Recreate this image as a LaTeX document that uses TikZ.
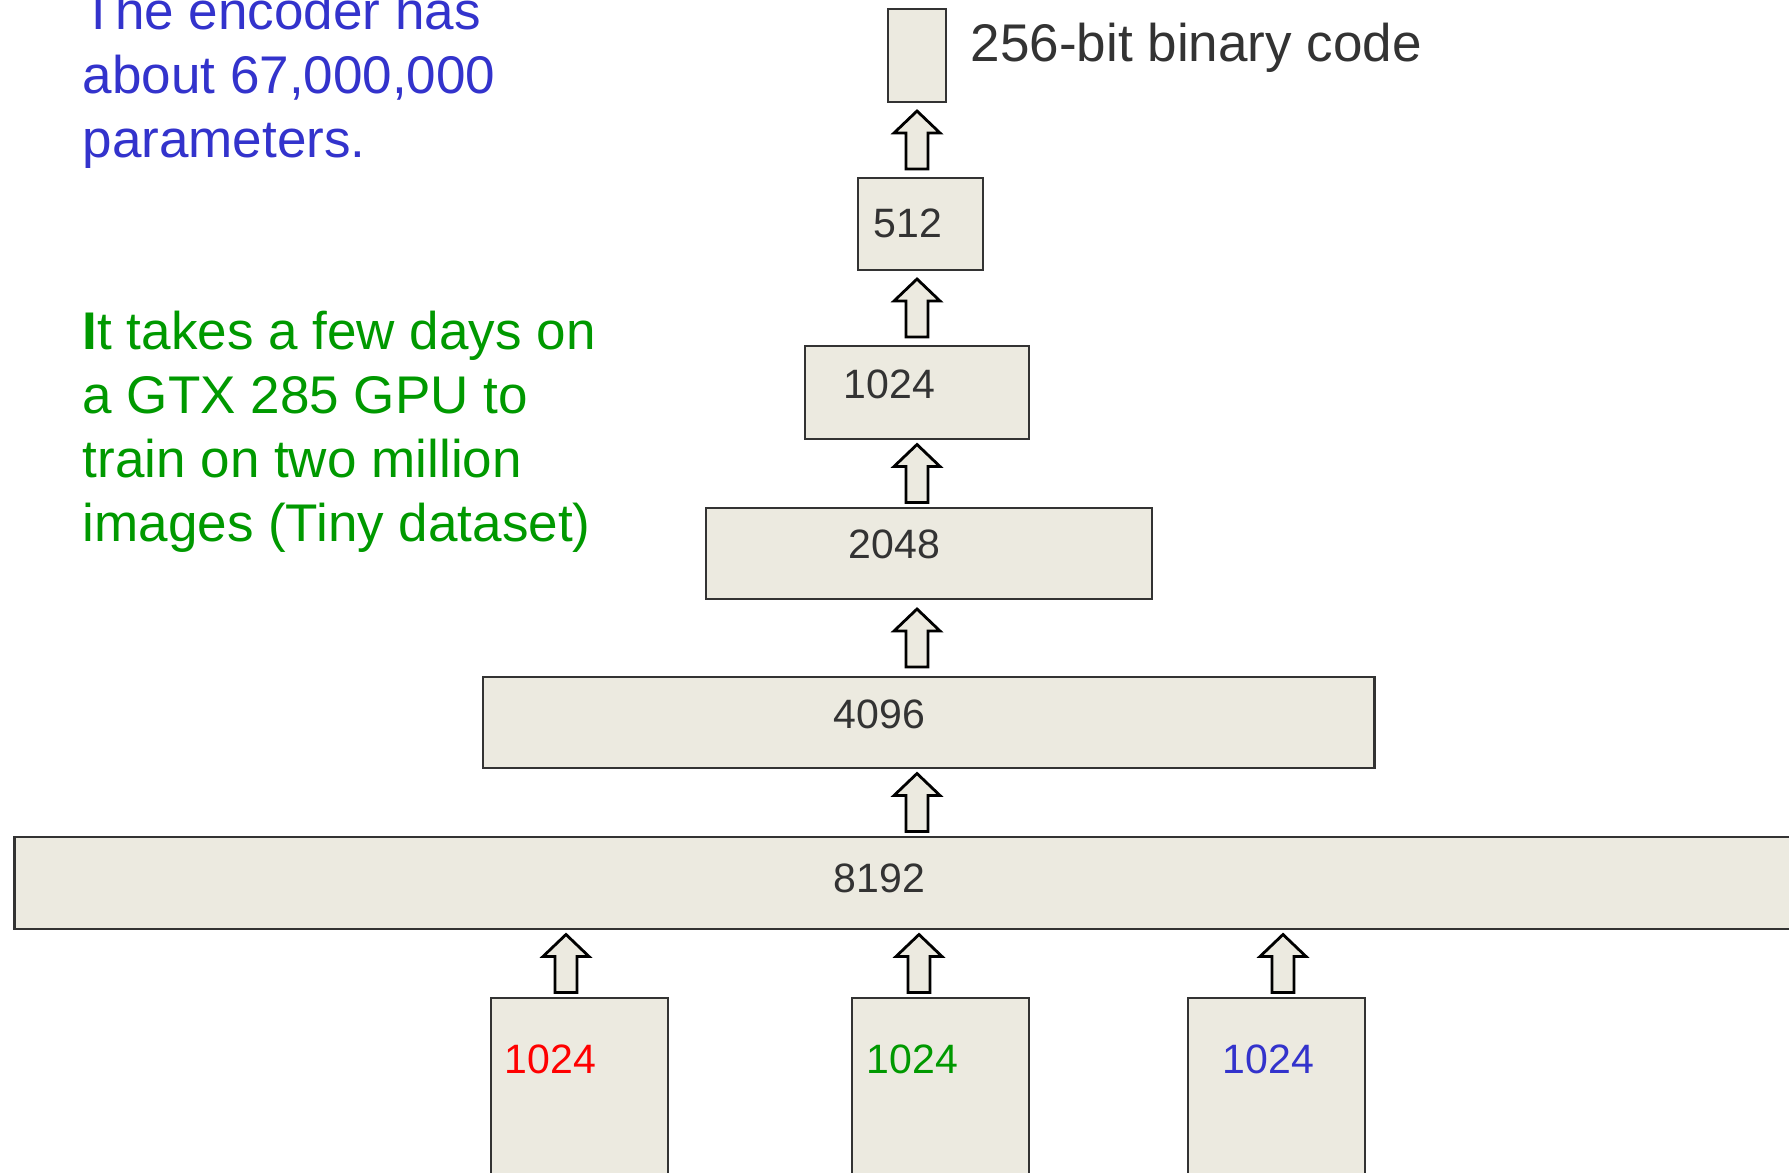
\documentclass[tikz,border=0pt]{standalone}
\usepackage{fontspec}
\setmainfont{Liberation Sans}
\usetikzlibrary{calc}

\definecolor{layerfill}{RGB}{236,234,224}
\definecolor{layerline}{RGB}{51,51,51}
\definecolor{numtext}{RGB}{51,51,51}
\definecolor{noteblue}{RGB}{51,51,204}
\definecolor{notegreen}{RGB}{0,153,0}
\definecolor{inred}{RGB}{255,0,0}

\tikzset{
  layer/.style={draw=layerline, line width=0.025cm, fill=layerfill,
    inner sep=0pt, anchor=center},
  sizelabel/.style={anchor=base west, inner sep=0pt, text=numtext,
    font=\fontsize{11.67pt}{14pt}\selectfont},
  note/.style={anchor=base west, inner sep=0pt,
    font=\fontsize{15.08pt}{18pt}\selectfont},
  % hollow block arrow of fixed length, centred in the gap between two layers
  uparrow/.style={draw=black, line width=0.028cm, fill=layerfill, line join=miter,
    to path={let \p1=(\tikztostart), \p2=(\tikztotarget), \n1={0.5*(\y1+\y2)} in
      ({\x1-0.11cm},{\n1-0.29cm}) -- ({\x1+0.11cm},{\n1-0.29cm})
      -- ({\x1+0.11cm},{\n1+0.07cm}) -- ({\x1+0.23cm},{\n1+0.07cm})
      -- ({\x1},{\n1+0.29cm}) -- ({\x1-0.23cm},{\n1+0.07cm})
      -- ({\x1-0.11cm},{\n1+0.07cm}) -- cycle}}
}

\begin{document}
\begin{tikzpicture}[x=0.01cm, y=-0.01cm]
  \fill[white] (0,0) rectangle (1789,1172);
  \clip (0,0) rectangle (1789,1172);

  % layers of the encoder
  \node[layer, minimum width=0.58cm, minimum height=0.93cm]  (code) at (917,55.5) {};
  \node[layer, minimum width=1.25cm, minimum height=0.92cm] (h512) at (920.5,224) {};
  \node[layer, minimum width=2.24cm, minimum height=0.93cm] (h1024) at (917,392.5) {};
  \node[layer, minimum width=4.46cm, minimum height=0.91cm] (h2048) at (929,553.5) {};
  \node[layer, minimum width=8.91cm, minimum height=0.91cm] (h4096) at (928.5,722.5) {};
  \node[layer, minimum width=18.35cm, minimum height=0.92cm] (h8192) at (932.5,883) {};
  \node[layer, minimum width=1.77cm, minimum height=2.02cm] (inR) at (579.5,1099) {};
  \node[layer, minimum width=1.77cm, minimum height=2.02cm] (inG) at (940.5,1099) {};
  \node[layer, minimum width=1.77cm, minimum height=2.02cm] (inB) at (1276.5,1099) {};

  % layer sizes
  \node[note, text=numtext] (codelabel) at (970,61) {256-bit binary code};
  \node[sizelabel] (l512) at (873,237) {512};
  \node[sizelabel] (l1024) at (843,398) {1024};
  \node[sizelabel] (l2048) at (848,558) {2048};
  \node[sizelabel] (l4096) at (833,728) {4096};
  \node[sizelabel] (l8192) at (833,892) {8192};
  \node[sizelabel, text=inred] (lR) at (504,1073) {1024};
  \node[sizelabel, text=notegreen] (lG) at (866,1073) {1024};
  \node[sizelabel, text=noteblue] (lB) at (1222,1073) {1024};

  % arrow columns
  \coordinate (c0) at (917,0);
  \coordinate (c1) at (566,0);
  \coordinate (c2) at (919,0);
  \coordinate (c3) at (1283,0);

  \draw[uparrow] (h512.north -| c0) to (code.south -| c0);
  \draw[uparrow] (h1024.north -| c0) to (h512.south -| c0);
  \draw[uparrow] (h2048.north -| c0) to (h1024.south -| c0);
  \draw[uparrow] (h4096.north -| c0) to (h2048.south -| c0);
  \draw[uparrow] (h8192.north -| c0) to (h4096.south -| c0);
  \draw[uparrow] (inR.north -| c1) to (h8192.south -| c1);
  \draw[uparrow] (inG.north -| c2) to (h8192.south -| c2);
  \draw[uparrow] (inB.north -| c3) to (h8192.south -| c3);

  % notes
  \node[note, text=noteblue] (nb1) at (82,29) {The encoder has};
  \node[note, text=noteblue] (nb2) at (82,93) {about 67,000,000};
  \node[note, text=noteblue] (nb3) at (82,157) {parameters.};

  \node[note, text=notegreen] (ng1) at (82,349) {\textbf{I}t takes a few days on};
  \node[note, text=notegreen] (ng2) at (82,413) {a GTX 285 GPU to};
  \node[note, text=notegreen] (ng3) at (82,477) {train on two million};
  \node[note, text=notegreen] (ng4) at (82,541) {images (Tiny dataset)};
\end{tikzpicture}
\end{document}
